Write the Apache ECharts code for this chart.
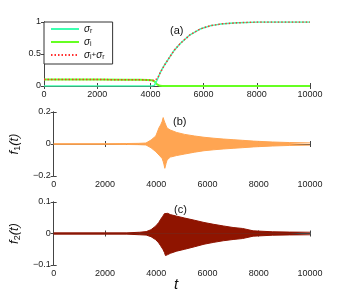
<!DOCTYPE html>
<html><head><meta charset="utf-8">
<script src="https://cdn.jsdelivr.net/npm/echarts@6/dist/echarts.min.js"></script>
<style>html,body{margin:0;padding:0;background:#fff}#c{width:342px;height:299px}</style>
</head><body><div id="c"></div>
<script>
// ---- data ----
var tA = [0, 1000, 2000, 3000, 3600, 3900, 4050, 4150, 4200, 4250, 4300, 4360, 4450, 4550, 4737, 4900, 5113, 5300, 5489, 5700, 5865, 6015, 6241, 6450, 6654, 7000, 7282, 7600, 8034, 9000, 10000];
var sigmaR = [0, 0, 0, 0, 0, 0, 0, 0.01, 0.04, 0.09, 0.14, 0.2, 0.27, 0.34, 0.46, 0.56, 0.66, 0.73, 0.8, 0.85, 0.89, 0.91, 0.94, 0.955, 0.97, 0.98, 0.988, 0.994, 1.0, 1.0, 1.0];
var sigmaI = [0.1, 0.1, 0.1, 0.099, 0.097, 0.094, 0.09, 0.075, 0.05, 0.025, 0.008, 0.002, 0, 0, 0, 0, 0, 0, 0, 0, 0, 0, 0, 0, 0, 0, 0, 0, 0, 0, 0];

var tB = [0, 2000, 2850, 3300, 3600, 3800, 3985, 4110, 4173, 4230, 4273, 4300, 4336, 4361, 4386, 4424, 4486, 4549, 4612, 4800, 5113, 5500, 5865, 6250, 6617, 7000, 7368, 7800, 8534, 9200, 10000];
var f1Upper = [0.002, 0.002, 0.003, 0.004, 0.006, 0.025, 0.05, 0.102, 0.119, 0.14, 0.165, 0.15, 0.135, 0.129, 0.115, 0.1, 0.092, 0.0875, 0.084, 0.072, 0.06, 0.05, 0.042, 0.036, 0.031, 0.027, 0.023, 0.018, 0.0125, 0.009, 0.007];
var f1Lower = [-0.002, -0.002, -0.003, -0.004, -0.006, -0.024, -0.048, -0.069, -0.08, -0.09, -0.11, -0.125, -0.152, -0.14, -0.121, -0.1, -0.088, -0.082, -0.079, -0.072, -0.0625, -0.051, -0.042, -0.036, -0.031, -0.027, -0.023, -0.018, -0.0125, -0.009, -0.007];

var tC = [0, 2000, 2857, 3357, 3609, 3797, 3985, 4100, 4173, 4260, 4320, 4361, 4450, 4549, 4800, 5113, 5500, 5865, 6250, 6617, 7000, 7368, 7782, 8534, 9200, 10000];
var f2Upper = [0.002, 0.002, 0.002, 0.004, 0.006, 0.012, 0.024, 0.035, 0.045, 0.055, 0.063, 0.068, 0.064, 0.06, 0.055, 0.049, 0.042, 0.035, 0.029, 0.024, 0.019, 0.016, 0.0085, 0.0055, 0.0045, 0.004];
var f2Lower = [-0.002, -0.002, -0.002, -0.004, -0.005, -0.01, -0.02, -0.03, -0.039, -0.05, -0.06, -0.07, -0.067, -0.063, -0.056, -0.05, -0.042, -0.034, -0.028, -0.023, -0.019, -0.016, -0.0085, -0.0055, -0.0045, -0.004];

var xTicks = [0, 2000, 4000, 6000, 8000, 10000];

function pairs(t, v) { return t.map(function (x, i) { return [x, v[i]]; }); }
var sigmaSum = sigmaR.map(function (v, i) { return +(v + sigmaI[i]).toFixed(4); });

var axisColor = '#444';
var font = 'Liberation Sans';
function minus(v) { return String(v).replace('-', '\u2212'); }

var grids = [
  {left: 44, top: 22, width: 266, height: 64},
  {left: 44, top: 112, width: 266, height: 64},
  {left: 44, top: 202, width: 266, height: 63}
];
var yRanges = [[0, 1, 0.5], [-0.2, 0.2, 0.2], [-0.1, 0.1, 0.1]];

var xAxes = [], yAxes = [];
grids.forEach(function (g, i) {
  xAxes.push({
    type: 'value', gridIndex: i, min: xTicks[0], max: xTicks[xTicks.length - 1], interval: 2000,
    position: 'bottom',
    axisLine: {show: true, lineStyle: {color: axisColor, width: 1}},
    axisTick: {show: true, inside: true, length: 3, lineStyle: {color: axisColor}},
    axisLabel: {show: true, margin: 4, fontFamily: font, fontSize: 9, color: '#222',
      formatter: function (v) { return String(v); }},
    splitLine: {show: false}
  });
  xAxes.push({
    type: 'value', gridIndex: i, min: xTicks[0], max: xTicks[xTicks.length - 1], interval: 2000,
    position: 'top',
    axisLine: {show: true, lineStyle: {color: axisColor, width: 1}},
    axisTick: {show: true, inside: true, length: 3, lineStyle: {color: axisColor}},
    axisLabel: {show: false}, splitLine: {show: false}
  });
  var r = yRanges[i];
  var yl = {
    type: 'value', gridIndex: i, min: r[0], max: r[1], interval: r[2], position: 'left',
    axisLine: {show: true, lineStyle: {color: axisColor, width: 1}},
    axisTick: {show: true, inside: true, length: 3, lineStyle: {color: axisColor}},
    axisLabel: {show: true, margin: 3, fontFamily: font, fontSize: 9, color: '#222', formatter: minus},
    splitLine: {show: false}
  };
  if (i > 0) {
    yl.name = '{f|f}{s|' + i + '}{f|(t)}';
    yl.nameLocation = 'middle';
    yl.nameRotate = 90;
    yl.nameGap = 17;
    yl.nameTextStyle = {
      rich: {
        f: {fontFamily: font, fontStyle: 'italic', fontSize: 13, color: '#111'},
        s: {fontFamily: font, fontSize: 9, color: '#111', padding: [6, 0, 0, 0]}
      }
    };
  }
  yAxes.push(yl);
  yAxes.push({
    type: 'value', gridIndex: i, min: r[0], max: r[1], interval: r[2], position: 'right',
    axisLine: {show: true, lineStyle: {color: axisColor, width: 1}},
    axisTick: {show: true, inside: true, length: 3, lineStyle: {color: axisColor}},
    axisLabel: {show: false}, splitLine: {show: false}
  });
});

function line(name, data, color, width, type, z) {
  return {
    name: name, type: 'line', xAxisIndex: 0, yAxisIndex: 0, data: data,
    symbol: 'none', showSymbol: false, animation: false, z: z,
    lineStyle: {color: color, width: width, type: type}, itemStyle: {color: color}
  };
}
function band(data, color, xi, yi) {
  return {
    type: 'line', xAxisIndex: xi, yAxisIndex: yi, data: data, symbol: 'none', animation: false,
    lineStyle: {color: color, width: 1}, areaStyle: {color: color, opacity: 1}, z: 2
  };
}

var legendNames = {'σr': '{s|σ}{b|r}', 'σi': '{s|σ}{b|i}', 'σi+σr': '{s|σ}{b|i}{p|+}{s|σ}{b|r}'};

var option = {
  animation: false,
  grid: grids,
  xAxis: xAxes,
  yAxis: yAxes,
  legend: {
    left: 44, top: 22, orient: 'vertical', backgroundColor: '#fff',
    borderColor: '#333', borderWidth: 1, borderRadius: 0,
    padding: [2, 8, 3, 6], itemGap: 2, itemWidth: 28, itemHeight: 10,
    itemStyle: {opacity: 0},
    data: ['σr', 'σi', 'σi+σr'],
    formatter: function (n) { return legendNames[n]; },
    textStyle: {
      rich: {
        s: {fontFamily: font, fontStyle: 'italic', fontSize: 10, color: '#111'},
        b: {fontFamily: font, fontSize: 7, color: '#111', padding: [5, 0, 0, 0]},
        p: {fontFamily: font, fontSize: 8, color: '#111'}
      }
    }
  },
  series: [
    line('σi', pairs(tA, sigmaI), '#66ff22', 2, 'solid', 3),
    line('σr', pairs(tA, sigmaR), '#3dffb0', 1.5, 'solid', 4),
    line('σi+σr', pairs(tA, sigmaSum), '#ff3030', 1.5, [1.5, 2], 5),
    band(pairs(tB, f1Upper), '#ffa552', 2, 2),
    band(pairs(tB, f1Lower), '#ffa552', 2, 2),
    band(pairs(tC, f2Upper), '#8f1400', 4, 4),
    band(pairs(tC, f2Lower), '#8f1400', 4, 4)
  ],
  graphic: [
    {type: 'text', left: 170, top: 25, style: {text: '(a)', font: '11px "Liberation Sans"', fill: '#111'}},
    {type: 'text', left: 173, top: 116, style: {text: '(b)', font: '11px "Liberation Sans"', fill: '#111'}},
    {type: 'text', left: 174, top: 204, style: {text: '(c)', font: '11px "Liberation Sans"', fill: '#111'}},
    {type: 'text', left: 174, top: 277, style: {text: 't', font: 'italic 15px "Liberation Sans"', fill: '#111'}}
  ]
};
var chart = echarts.init(document.getElementById('c'), null, {renderer: 'canvas'});
chart.setOption(option);
</script></body></html>
